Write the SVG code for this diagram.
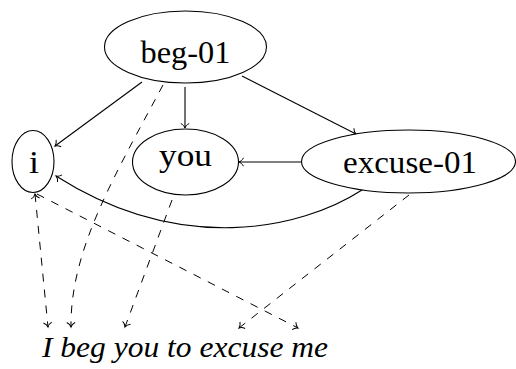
<svg xmlns="http://www.w3.org/2000/svg" width="516" height="369" viewBox="0 0 516 369">
  <style>
    .node { fill: #fff; stroke: #000; stroke-width: 1.1; }
    .lbl { font-family: 'Liberation Serif', 'DejaVu Serif', 'Times New Roman', serif; font-size: 31px; fill: #000; text-anchor: middle; }
    .edge { fill: none; stroke: #000; stroke-width: 1.1; marker-end: url(#to); }
    .align { fill: none; stroke: #000; stroke-width: 1; stroke-dasharray: 8 8; marker-end: url(#to); }
    .sent { font-family: 'Liberation Serif', 'DejaVu Serif', 'Times New Roman', serif; font-size: 30px; font-style: italic; fill: #000; }
  </style>
  <defs>
    <!-- open curved arrow tip -->
    <marker id="to" markerUnits="userSpaceOnUse" viewBox="-6 -6 8 12" markerWidth="8" markerHeight="12" refX="0" refY="0" orient="auto-start-reverse" overflow="visible">
      <path d="M-4.5,-4.2 C-3.2,-1.6 -1.2,-0.4 0,0 C-1.2,0.4 -3.2,1.6 -4.5,4.2" fill="none" stroke="#000" stroke-width="1" stroke-dasharray="none"/>
    </marker>
  </defs>

  <rect width="516" height="369" fill="#fff"/>

  <g id="connectors">
    <!-- relations -->
    <path class="edge" d="M142,82 L55,146"/>
    <path class="edge" d="M185,87 L185,128"/>
    <path class="edge" d="M242,76 L356,134"/>
    <path class="edge" d="M301,162 L239,162"/>
    <path class="edge" d="M362,190 C300,230 180,255 56,176"/>
    <!-- alignments to tokens -->
    <path class="align" d="M35,194 L48,327" marker-start="url(#to)"/>
    <path class="align" d="M163,85 C115,175 70,250 71,327"/>
    <path class="align" d="M172,200 L125,327"/>
    <path class="align" d="M409,195 L239,328"/>
    <path class="align" d="M37,194 L298,328"/>
  </g>

  <g id="beg-01">
    <ellipse class="node" cx="185.5" cy="47" rx="81" ry="36"/>
    <text class="lbl" x="185.5" y="63" font-family="Liberation Serif, serif" textLength="90" lengthAdjust="spacingAndGlyphs">beg-01</text>
  </g>
  <g id="i">
    <ellipse class="node" cx="33" cy="161.5" rx="21" ry="31"/>
    <text class="lbl" x="34" y="173" textLength="10" lengthAdjust="spacingAndGlyphs">i</text>
  </g>
  <g id="you">
    <ellipse class="node" cx="185.5" cy="162" rx="53" ry="33"/>
    <text class="lbl" x="185.5" y="166" textLength="53" lengthAdjust="spacingAndGlyphs">you</text>
  </g>
  <g id="excuse-01">
    <ellipse class="node" cx="408.5" cy="161.5" rx="107" ry="31.5"/>
    <text class="lbl" x="410" y="173" textLength="134" lengthAdjust="spacingAndGlyphs">excuse-01</text>
  </g>

  <g id="sentence">
    <text class="sent" x="42" y="357" textLength="286" lengthAdjust="spacingAndGlyphs">I beg you to excuse me</text>
  </g>
</svg>
